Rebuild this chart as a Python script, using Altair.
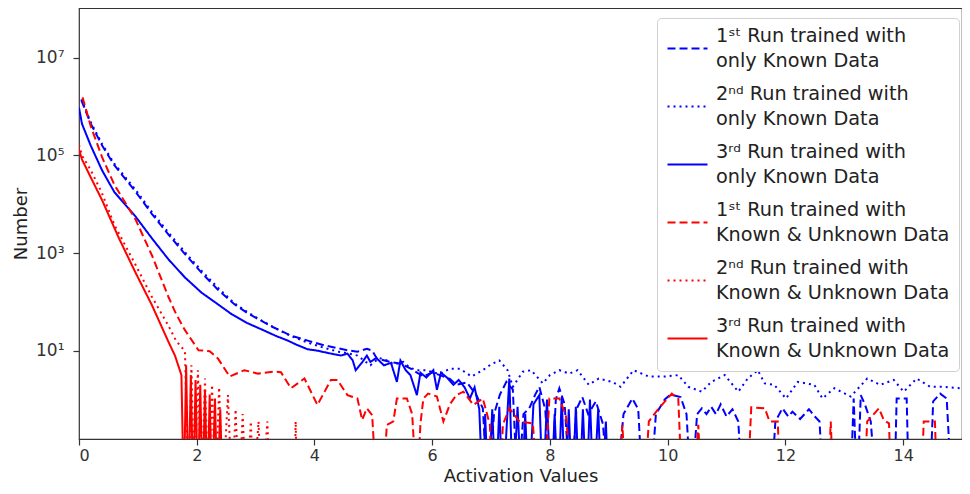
import altair as alt
import pandas as pd

E = -2.0  # empty histogram bin (count 0): drawn below the axis floor and clipped

SERIES = [
    "1ˢᵗ Run trained with|only Known Data",
    "2ⁿᵈ Run trained with|only Known Data",
    "3ʳᵈ Run trained with|only Known Data",
    "1ˢᵗ Run trained with|Known & Unknown Data",
    "2ⁿᵈ Run trained with|Known & Unknown Data",
    "3ʳᵈ Run trained with|Known & Unknown Data",
]
COLORS = ["#0000ff", "#0000ff", "#0000ff", "#ff0000", "#ff0000", "#ff0000"]
DASHES = [[8, 4], [2, 4], [1, 0], [8, 4], [2, 4], [1, 0]]

# (activation value, log10 of number)
BLUE_DASHED = [
    (0.04, 6.13), (0.2, 5.65), (0.39, 5.21), (0.6, 4.8), (0.96, 4.26), (1.24, 3.8),
    (1.52, 3.38), (1.8, 2.98), (2.08, 2.60), (2.36, 2.25), (2.64, 1.95), (2.85, 1.78),
    (3.04, 1.65), (3.3, 1.48), (3.6, 1.31), (3.9, 1.2), (4.16, 1.11), (4.4, 1.05),
    (4.56, 1.01), (4.73, 0.98), (4.89, 1.04), (4.98, 1.0), (5.06, 0.84), (5.29, 0.77),
    (5.48, 0.73), (5.65, 0.62), (5.85, 0.47), (6.0, 0.55), (6.13, 0.5), (6.3, 0.42),
    (6.41, 0.3), (6.59, 0.35), (6.75, 0.09), (6.86, -0.18), (6.95, E), (7.05, -0.3),
    (7.15, 0.1), (7.26, 0.36), (7.37, 0.2), (7.45, E), (7.55, -0.3), (7.65, -0.18),
    (7.75, 0.1), (7.82, 0.26), (7.92, -0.2), (8.02, E), (8.1, 0.0), (8.16, 0.23),
    (8.25, -0.1), (8.35, E), (8.45, -0.2), (8.55, 0.05), (8.65, -0.3), (8.78, -0.04),
    (8.9, -0.5), (9.0, E), (9.12, E), (9.25, -0.3), (9.4, 0.02), (9.5, -0.2),
    (9.58, E), (9.7, E), (9.8, -0.3), (9.95, 0.0), (10.05, 0.1), (10.22, 0.05),
    (10.32, -0.3), (10.4, E), (10.5, -0.3), (10.58, -0.18), (10.66, -0.3), (10.74, -0.15),
    (10.82, -0.3), (10.9, -0.1), (11.0, -0.35), (11.1, -0.2), (11.2, -0.45), (11.27, E),
    (11.75, E), (11.83, -0.45), (11.95, -0.18), (12.05, -0.35), (12.12, -0.25), (12.25, -0.4),
    (12.4, -0.2), (12.5, -0.35), (12.58, -0.45), (12.65, E), (13.1, E), (13.16, 0.02),
    (13.22, E), (13.28, 0.09), (13.35, -0.1), (13.45, -0.45), (13.55, E), (13.85, E),
    (13.89, 0.02), (14.0, 0.02), (14.06, 0.02), (14.1, E), (14.45, E), (14.51, -0.04),
    (14.63, 0.12), (14.74, 0.02), (14.83, E), (15.0, E),
]

BLUE_DOTTED = [
    (0.04, 6.15), (0.2, 5.68), (0.39, 5.24), (0.6, 4.83), (0.96, 4.3), (1.24, 3.84),
    (1.52, 3.42), (1.8, 3.02), (2.08, 2.64), (2.36, 2.29), (2.64, 1.97), (2.85, 1.8),
    (3.04, 1.66), (3.3, 1.48), (3.6, 1.30), (3.9, 1.16), (4.16, 1.06), (4.4, 0.98),
    (4.56, 0.95), (4.73, 0.9), (4.95, 0.70), (5.1, 0.85), (5.23, 0.80), (5.35, 0.72),
    (5.51, 0.77), (5.62, 0.65), (5.74, 0.60), (5.91, 0.60), (6.02, 0.55), (6.13, 0.53),
    (6.3, 0.63), (6.47, 0.63), (6.67, 0.47), (6.86, 0.60), (7.0, 0.72), (7.14, 0.80),
    (7.28, 0.60), (7.37, 0.26), (7.54, 0.57), (7.68, 0.60), (7.88, 0.33), (8.0, 0.5),
    (8.16, 0.60), (8.33, 0.53), (8.47, 0.60), (8.66, 0.30), (8.83, 0.43), (9.06, 0.36),
    (9.2, 0.26), (9.42, 0.60), (9.68, 0.47), (9.96, 0.47), (10.18, 0.50), (10.35, 0.26),
    (10.58, 0.16), (10.74, 0.36), (10.97, 0.50), (11.2, 0.16), (11.36, 0.43), (11.53, 0.60),
    (11.65, 0.33), (11.81, 0.30), (12.01, 0.02), (12.21, 0.36), (12.49, 0.30), (12.63, 0.02),
    (12.83, 0.23), (13.11, 0.06), (13.39, 0.43), (13.61, 0.30), (13.84, 0.40), (14.01, 0.16),
    (14.23, 0.43), (14.46, 0.26), (14.68, 0.26), (14.96, 0.23),
]

BLUE_SOLID = [
    (0.0, 5.98), (0.05, 5.65), (0.2, 5.2), (0.39, 4.70), (0.6, 4.25), (0.96, 3.75),
    (1.24, 3.3), (1.52, 2.87), (1.8, 2.5), (2.08, 2.19), (2.36, 1.95), (2.59, 1.75),
    (2.85, 1.57), (3.15, 1.41), (3.35, 1.30), (3.54, 1.21), (3.7, 1.12), (3.88, 1.03),
    (4.05, 1.0), (4.28, 0.94), (4.45, 0.9), (4.56, 0.94), (4.65, 0.80), (4.7, 0.60),
    (4.81, 0.76), (4.89, 0.9), (4.95, 0.77), (5.05, 0.85), (5.18, 0.70), (5.3, 0.75),
    (5.4, 0.36), (5.46, 0.80), (5.55, 0.6), (5.63, 0.50), (5.74, 0.09), (5.8, 0.55),
    (5.9, 0.45), (6.02, 0.60), (6.08, 0.2), (6.15, 0.55), (6.25, 0.45), (6.36, 0.30),
    (6.45, 0.40), (6.55, 0.25), (6.64, 0.02), (6.72, 0.25), (6.8, -0.2), (6.86, E),
    (6.9, -0.3), (6.95, E), (7.02, -0.2), (7.08, E), (7.14, -0.15), (7.2, E),
    (7.31, 0.43), (7.37, E), (7.45, -0.15), (7.52, E), (7.58, -0.3), (7.64, E),
    (7.72, -0.1), (7.82, 0.09), (7.88, E), (7.95, 0.0), (8.02, E), (8.08, -0.3),
    (8.14, E), (8.2, 0.05), (8.26, E), (8.32, -0.2), (8.38, E), (8.44, -0.15),
    (8.5, E), (8.56, -0.2), (8.62, E), (8.68, 0.0), (8.74, E), (8.82, -0.2),
    (8.88, E), (8.95, -0.45), (9.0, E), (15.0, E),
]

RED_DASHED = [
    (0.06, 6.19), (0.2, 5.6), (0.39, 4.97), (0.6, 4.4), (0.96, 3.69), (1.24, 2.95),
    (1.52, 2.1), (1.65, 1.75), (1.8, 1.42), (2.03, 1.01), (2.22, 0.99), (2.36, 0.84),
    (2.56, 0.47), (2.81, 0.60), (3.04, 0.53), (3.32, 0.57), (3.43, 0.56), (3.6, 0.23),
    (3.83, 0.43), (4.05, -0.11), (4.28, 0.40), (4.39, 0.40), (4.56, 0.09), (4.73, 0.02),
    (4.81, -0.42), (4.89, -0.18), (4.98, -0.32), (5.06, E), (5.15, E), (5.23, -0.52),
    (5.34, -0.45), (5.4, 0.02), (5.57, 0.02), (5.66, -0.3), (5.74, E), (5.8, -0.5),
    (5.85, 0.02), (5.93, 0.12), (6.08, 0.06), (6.19, -0.45), (6.3, -0.1), (6.41, 0.09),
    (6.53, 0.16), (6.7, -0.11), (6.86, 0.02), (6.98, -0.52), (7.02, E), (7.15, E),
    (7.2, -0.52), (7.31, -0.18), (7.48, -0.45), (7.71, -0.49), (7.8, E), (7.9, E),
    (7.99, 0.02), (8.16, 0.02), (8.27, -0.32), (8.4, E), (9.15, E), (9.23, -0.52),
    (9.3, E), (9.6, E), (9.68, -0.45), (9.85, -0.18), (10.07, 0.12), (10.18, 0.02),
    (10.25, E), (10.45, E), (10.52, -0.52), (10.58, E), (11.35, E), (11.42, -0.16),
    (11.65, -0.18), (11.73, -0.45), (11.87, -0.45), (11.92, E), (12.72, E), (12.77, -0.45),
    (12.82, E), (13.33, E), (13.39, -0.45), (13.59, -0.18), (13.67, -0.42), (13.76, -0.49),
    (13.8, E), (14.3, E), (14.35, -0.45), (14.54, -0.45), (14.58, E), (15.0, E),
]

RED_DOTTED = [
    (0.0, 5.22), (0.05, 5.0), (0.2, 4.7), (0.39, 4.23), (0.6, 3.58), (0.96, 2.76),
    (1.24, 2.1), (1.52, 1.51), (1.65, 1.2), (1.8, 0.99), (1.86, E), (1.91, 0.70),
    (1.96, E), (2.02, 0.6), (2.08, E), (2.14, 0.43), (2.2, E), (2.26, 0.3),
    (2.32, E), (2.38, 0.25), (2.44, E), (2.53, 0.09), (2.6, E), (2.66, -0.2),
    (2.72, E), (2.78, -0.3), (2.84, E), (2.92, -0.45), (2.96, E), (3.05, -0.45),
    (3.1, E), (3.2, -0.45), (3.25, E), (3.66, E), (3.68, -0.45), (3.71, E), (15.0, E),
]

RED_SOLID = [
    (0.0, 5.12), (0.05, 4.92), (0.2, 4.55), (0.39, 4.09), (0.68, 3.3), (0.96, 2.60),
    (1.24, 1.93), (1.52, 1.18), (1.63, 0.9), (1.74, 0.50), (1.78, E), (1.82, 0.7),
    (1.86, E), (1.9, 0.5), (1.94, E), (1.98, 0.4), (2.02, E), (2.06, 0.3),
    (2.1, E), (2.14, 0.2), (2.18, E), (2.22, 0.1), (2.26, E), (2.31, 0.02),
    (2.35, E), (2.4, -0.2), (2.44, E), (15.0, E),
]

ALL = [BLUE_DASHED, BLUE_DOTTED, BLUE_SOLID, RED_DASHED, RED_DOTTED, RED_SOLID]

rows = []
for name, pts in zip(SERIES, ALL):
    for x, lg in pts:
        rows.append({"series": name, "x": x, "n": 10 ** lg})
df = pd.DataFrame(rows)

FONT = "DejaVu Sans"

legend = alt.Legend(
    title=None,
    orient="none",
    legendX=578,
    legendY=10,
    padding=9,
    fillColor="white",
    strokeColor="#d0d0d0",
    cornerRadius=4,
    labelFont=FONT,
    labelFontSize=19.25,
    labelColor="#222222",
    labelBaseline="line-bottom",
    labelExpr="split(datum.label, '|')",
    labelLimit=400,
    labelOffset=7,
    symbolType="stroke",
    symbolSize=1600,
    symbolStrokeWidth=2.2,
    rowPadding=12,
)

ylabel = ("datum.value == 10 ? '10¹' : datum.value == 1000 ? '10³' : "
          "datum.value == 100000 ? '10⁵' : '10⁷'")

base_config = alt.Config(style={"guide-label": {"lineHeight": 25.5}})

chart = (
    alt.Chart(df, config=base_config)
    .mark_line(strokeWidth=2, clip=True)
    .encode(
        x=alt.X("x:Q",
                scale=alt.Scale(domain=[0, 15], nice=False, zero=False),
                axis=alt.Axis(values=[0, 2, 4, 6, 8, 10, 12, 14], title="Activation Values",
                              format="d", titlePadding=4, labelPadding=2, labelFontSize=16)),
        y=alt.Y("n:Q",
                scale=alt.Scale(type="log", domain=[0.155, 1.05e8], nice=False),
                axis=alt.Axis(values=[10, 1000, 100000, 10000000], labelExpr=ylabel,
                              title="Number", titlePadding=5, labelPadding=9, labelFontSize=17)),
        color=alt.Color("series:N", scale=alt.Scale(domain=SERIES, range=COLORS), legend=legend),
        strokeDash=alt.StrokeDash("series:N", scale=alt.Scale(domain=SERIES, range=DASHES),
                                  legend=legend),
    )
    .properties(
        width=883,
        height=431,
        autosize=alt.AutoSizeParams(type="none"),
        padding={"left": 71, "top": 0, "right": 0, "bottom": 47},
    )
    .configure_view(stroke="#333333", strokeWidth=1.2)
    .configure_axis(
        grid=False,
        domain=False,
        ticks=True,
        tickColor="#333333",
        tickSize=6,
        tickWidth=1.2,
        labelFont=FONT,
        labelColor="#333333",
        titleFont=FONT,
        titleFontSize=18,
        titleFontWeight="normal",
        titleColor="#222222",
    )
)

chart.save("out.html", embed_options={"renderer": "svg", "actions": False})
